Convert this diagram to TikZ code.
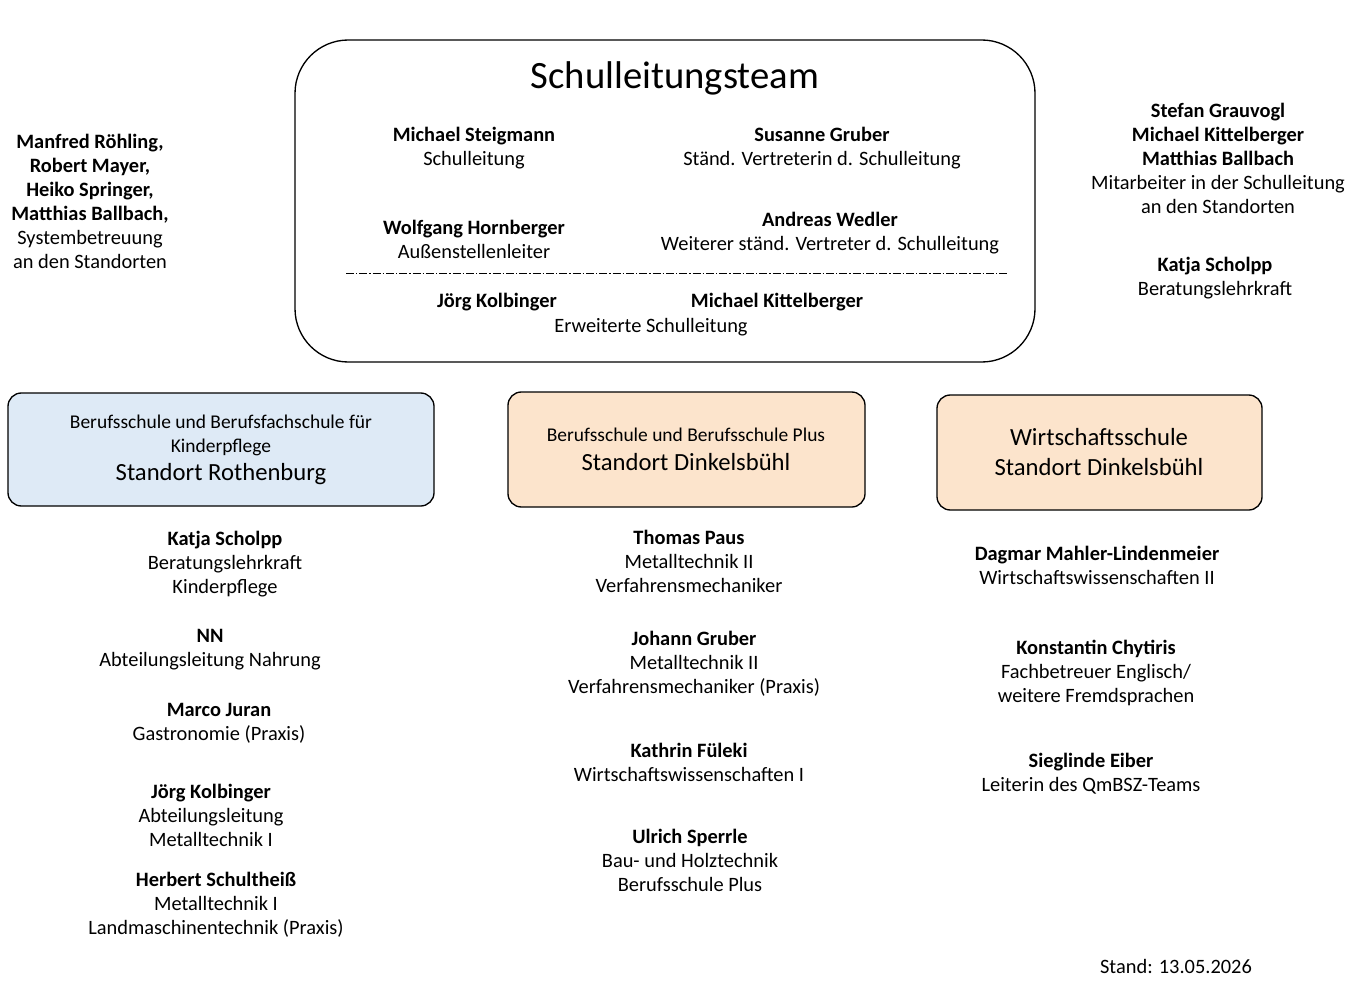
\documentclass[tikz,border=0pt]{standalone}
\usepackage{fontspec}
\setmainfont{Carlito}
\definecolor{cblue}{RGB}{222,234,246}
\definecolor{corange}{RGB}{252,228,204}

\tikzset{
  person/.style={align=center,inner sep=0pt,font=\fontsize{15.3}{18}\selectfont},
  site/.style={draw=black,line width=1pt,rounded corners=10pt},
}

\begin{document}
\begin{tikzpicture}[x=0.75pt,y=-0.75pt]
\useasboundingbox (0,0) rectangle (1348,991);

% Schulleitungsteam
\draw[line width=1pt,rounded corners=40pt] (295,40) rectangle (1035,362);
\node[font=\fontsize{29}{32}\selectfont] (title) at (675,78) {Schulleitungsteam};
\node[person] (steigmann) at (474,148) {\textbf{Michael Steigmann}\\Schulleitung};
\node[person] (gruber) at (822,148) {\textbf{Susanne Gruber}\\Ständ. Vertreterin d. Schulleitung};
\node[person] (hornberger) at (474,239) {\textbf{Wolfgang Hornberger}\\Außenstellenleiter};
\node[person] (wedler) at (830,233) {\textbf{Andreas Wedler}\\Weiterer ständ. Vertreter d. Schulleitung};
\coordinate (sepL) at (346,273);
\coordinate (sepR) at (1008,273);
\draw[dash pattern=on 6pt off 1.5pt on 1pt off 1.5pt] (sepL) -- (sepR);
\node[person] (kolbingerA) at (497,302) {\textbf{Jörg Kolbinger}};
\node[person] (kittelbergerA) at (777,302) {\textbf{Michael Kittelberger}};
\node[person] (erweitert) at (651,327) {Erweiterte Schulleitung};

% Seiten
\node[person] (system) at (90,201) {\textbf{Manfred Röhling,}\\\textbf{Robert Mayer,}\\\textbf{Heiko Springer,}\\\textbf{Matthias Ballbach,}\\Systembetreuung\\an den Standorten};
\node[person] (mitarbeiter) at (1218,158) {\textbf{Stefan Grauvogl}\\\textbf{Michael Kittelberger}\\\textbf{Matthias Ballbach}\\Mitarbeiter in der Schulleitung\\an den Standorten};
\node[person] (scholppA) at (1215,278) {\textbf{Katja Scholpp}\\Beratungslehrkraft};

% Standorte
\draw[site,fill=cblue] (8,393) rectangle (434,506);
\node[person,font=\fontsize{14.6}{18}\selectfont] (rothA) at (221,435) {Berufsschule und Berufsfachschule für\\Kinderpflege};
\node[font=\fontsize{18.5}{20}\selectfont] (rothB) at (221,474) {Standort Rothenburg};
\draw[site,fill=corange] (508,392) rectangle (865,507);
\node[person,font=\fontsize{14.6}{18}\selectfont] (dinkA) at (686,435) {Berufsschule und Berufsschule Plus};
\node[font=\fontsize{18.5}{20}\selectfont] (dinkB) at (686,462) {Standort Dinkelsbühl};
\draw[site,fill=corange] (937,395) rectangle (1262,510);
\node[align=center,font=\fontsize{18.5}{23}\selectfont] (wirt) at (1099,452) {Wirtschaftsschule\\Standort Dinkelsbühl};

% Rothenburg
\node[person] (scholpp) at (225,564) {\textbf{Katja Scholpp}\\Beratungslehrkraft\\Kinderpflege};
\node[person] (nn) at (210,650) {\textbf{NN}\\Abteilungsleitung Nahrung};
\node[person] (juran) at (219,723) {\textbf{Marco Juran}\\Gastronomie (Praxis)};
\node[person] (kolbinger) at (211,815) {\textbf{Jörg Kolbinger}\\Abteilungsleitung\\Metalltechnik I};
\node[person] (schultheiss) at (216,905) {\textbf{Herbert Schultheiß}\\Metalltechnik I\\Landmaschinentechnik (Praxis)};

% Dinkelsbühl Berufsschule
\node[person] (paus) at (689,561) {\textbf{Thomas Paus}\\Metalltechnik II\\Verfahrensmechaniker};
\node[person] (jgruber) at (694,664) {\textbf{Johann Gruber}\\Metalltechnik II\\Verfahrensmechaniker (Praxis)};
\node[person] (fueleki) at (689,762) {\textbf{Kathrin Füleki}\\Wirtschaftswissenschaften I};
\node[person] (sperrle) at (690,860) {\textbf{Ulrich Sperrle}\\Bau- und Holztechnik\\Berufsschule Plus};

% Wirtschaftsschule
\node[person] (mahler) at (1097,565) {\textbf{Dagmar Mahler-Lindenmeier}\\Wirtschaftswissenschaften II};
\node[person] (chytiris) at (1096,673) {\textbf{Konstantin Chytiris}\\Fachbetreuer Englisch/\\weitere Fremdsprachen};
\node[person] (eiber) at (1091,774) {\textbf{Sieglinde Eiber}\\Leiterin des QmBSZ-Teams};

\node[person] (stand) at (1176,966) {Stand: 13.05.2026};
\end{tikzpicture}
\end{document}
